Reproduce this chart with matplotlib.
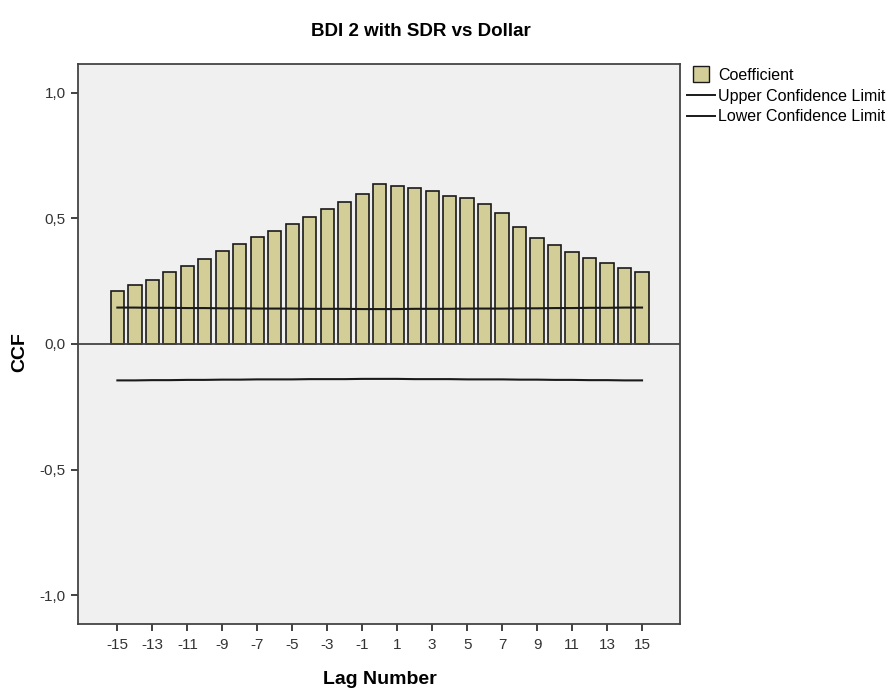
import numpy as np
import matplotlib.pyplot as plt
from matplotlib.lines import Line2D

plt.rcParams['font.family'] = ['Liberation Sans', 'DejaVu Sans']

lags = list(range(-15, 16))
coef = [0.210, 0.234, 0.256, 0.285, 0.312, 0.340, 0.369, 0.400, 0.426, 0.450,
        0.478, 0.504, 0.538, 0.567, 0.599, 0.639, 0.631, 0.621, 0.611, 0.590,
        0.583, 0.559, 0.520, 0.466, 0.424, 0.393, 0.366, 0.341, 0.321, 0.301,
        0.285]
upper = [0.145, 0.145, 0.144, 0.144, 0.143, 0.143, 0.142, 0.142, 0.141, 0.141,
         0.141, 0.140, 0.140, 0.140, 0.139, 0.139, 0.139, 0.140, 0.140, 0.140,
         0.141, 0.141, 0.141, 0.142, 0.142, 0.143, 0.143, 0.144, 0.144, 0.145,
         0.145]
lower = [-u for u in upper]
xticks = list(range(-15, 16, 2))
yticks = [-1.0, -0.5, 0.0, 0.5, 1.0]
ytick_labels = ["-1,0", "-0,5", "0,0", "0,5", "1,0"]

fig = plt.figure(figsize=(8.92, 6.91), dpi=100)
ax = fig.add_axes([0.0869, 0.0970, 0.7623 - 0.0869, 0.9074 - 0.0970])
ax.set_facecolor('#f0f0f0')

bar_color = '#d3ce97'
ax.bar(lags, coef, width=0.76, color=bar_color, edgecolor='#1a1a1a',
       linewidth=1.2, zorder=2)
ax.plot(lags, upper, color='#1a1a1a', linewidth=1.5, zorder=3)
ax.plot(lags, lower, color='#1a1a1a', linewidth=1.5, zorder=3)
ax.axhline(0, color='#444444', linewidth=1.3, zorder=4)

ax.set_xlim(-17.28, 17.17)
ax.set_ylim(-1.115, 1.115)
ax.set_xticks(xticks)
ax.set_xticklabels([str(t) for t in xticks])
ax.set_yticks(yticks)
ax.set_yticklabels(ytick_labels)
ax.tick_params(axis='both', labelsize=11, colors='#333333', length=5,
               width=1.3, direction='out')
ax.tick_params(axis='x', pad=5)
for s in ax.spines.values():
    s.set_color('#444444')
    s.set_linewidth(1.3)

fig.text(421 / 892, 1 - 31 / 691, "BDI 2 with SDR vs Dollar", ha='center',
         va='center', fontsize=13.5, fontweight='bold')
fig.text(380 / 892, 1 - 680 / 691, "Lag Number", ha='center', va='center',
         fontsize=14, fontweight='bold')
fig.text(20 / 892, 1 - 352 / 691, "CCF", ha='center', va='center',
         rotation=90, fontsize=14, fontweight='bold')

handles = [Line2D([], [], linestyle='None', marker='s', markersize=11,
                  markerfacecolor=bar_color, markeredgecolor='#1a1a1a',
                  markeredgewidth=1),
           Line2D([], [], color='#1a1a1a', linewidth=1.4),
           Line2D([], [], color='#1a1a1a', linewidth=1.4)]
fig.legend(handles, ["Coefficient", "Upper Confidence Limit",
                     "Lower Confidence Limit"],
           loc='upper left', bbox_to_anchor=(687 / 892, 1 - 68 / 691),
           frameon=False, fontsize=11.5, handlelength=1.75,
           handletextpad=0.2, labelspacing=0.35, borderaxespad=0,
           borderpad=0)

fig.savefig("out.png", dpi=100)
